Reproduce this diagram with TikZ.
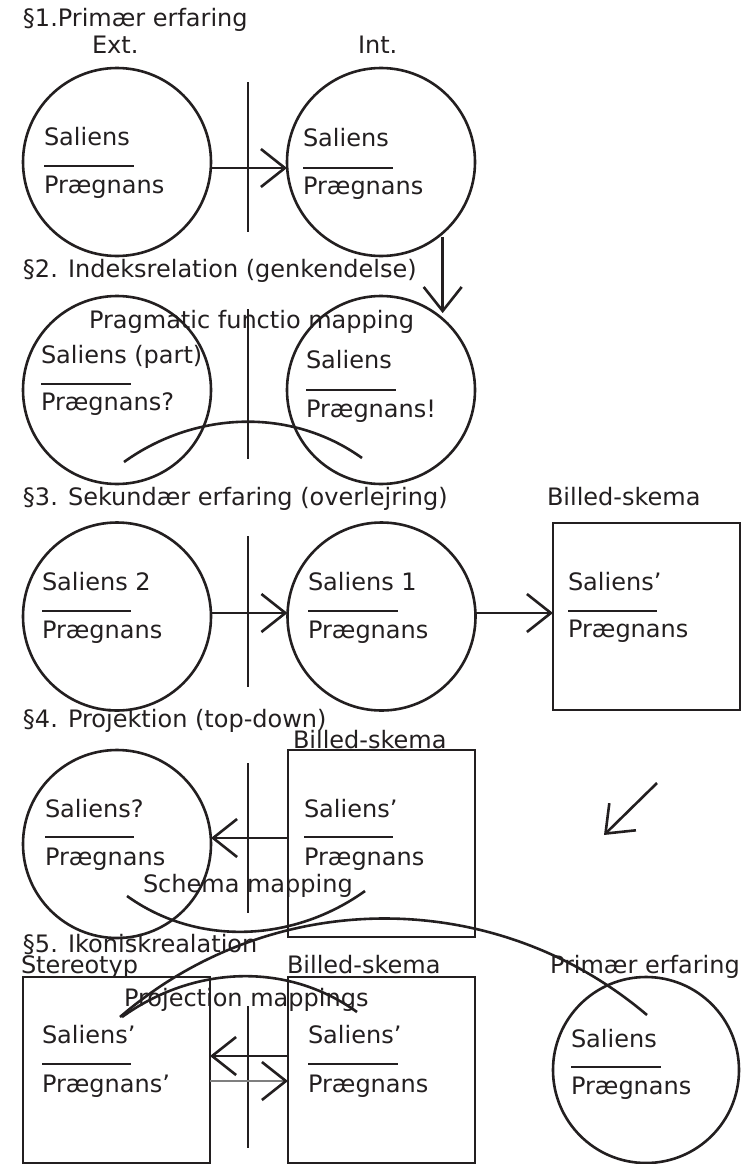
\documentclass[tikz,border=0pt]{standalone}
\usepackage{fontspec}
\setmainfont{DejaVu Sans}
\usetikzlibrary{arrows.meta}
\definecolor{ink}{HTML}{231F20}
\definecolor{greyline}{HTML}{7F7F7F}
\begin{document}
\begin{tikzpicture}[x=1pt,y=-1pt,
  ln/.style={line width=2.6pt, draw=ink},
  arr/.style={ln, -{Straight Barb[length=24pt,width=38pt]}},
  txt/.style={anchor=base west, inner sep=0pt, outer sep=0pt, text=ink, font=\fontsize{24}{28}\selectfont},
  circ/.style={ln, circle, minimum size=188pt, inner sep=0pt, outer sep=0pt},
  sq/.style={ln, rectangle, minimum width=187pt, minimum height=187pt, inner sep=0pt, outer sep=0pt},
  fracline/.style={line width=2.8pt, draw=ink},
]
\useasboundingbox (0,0) rectangle (747,1164);
\fill[white] (0,0) rectangle (747,1164);

% ---------- section 1 ----------
\node[txt] (t1) at (23,27) {§1.Primær erfaring};
\node[txt] (ext) at (92,53) {Ext.};
\node[txt] (int) at (358,53) {Int.};
\node[circ] (s1L) at (117,162) {};
\node[circ] (s1R) at (381,162) {};
\node[txt] (s1Ls) at (44,145) {Saliens};
\node[txt] (s1Lp) at (44,193) {Prægnans};
\node[txt] (s1Rs) at (303,146) {Saliens};
\node[txt] (s1Rp) at (303,194) {Prægnans};
\draw[fracline] (44,166) -- (134,166);
\draw[fracline] (303,168) -- (393,168);
\draw[ln] (248,82) -- (248,232);
\draw[arr] ([yshift=-6pt]s1L.east) -- ([yshift=-6pt]s1R.west);

% ---------- section 2 ----------
\node[txt] (t2) at (23,277) {§2. Indeksrelation (genkendelse)};
\node[circ] (s2L) at (117,390) {};
\node[circ] (s2R) at (381,390) {};
\node[txt] (prag) at (89,328) {Pragmatic functio mapping};
\node[txt] (s2Ls) at (41,363) {Saliens (part)};
\node[txt] (s2Lp) at (41,410) {Prægnans?};
\node[txt] (s2Rs) at (306,368) {Saliens};
\node[txt] (s2Rp) at (306,417) {Prægnans!};
\draw[fracline] (41,384) -- (131,384);
\draw[fracline] (306,390) -- (396,390);
\draw[ln] (248,309) -- (248,459);
\draw[arr, shorten <=4pt, shorten >=6pt] (s1R.-49.5) -- (s2R.49.5);
\coordinate (a2s) at (124,462);
\coordinate (a2e) at (362,458);
\draw[ln] (a2s) .. controls (195,411) and (291,407) .. (a2e);

% ---------- section 3 ----------
\node[txt] (t3) at (23,505) {§3. Sekundær erfaring (overlejring)};
\node[txt] (bs3) at (547,505) {Billed-skema};
\node[circ] (s3L) at (117,616.5) {};
\node[circ] (s3R) at (381.5,616.5) {};
\node[sq] (s3B) at (646.5,616.5) {};
\node[txt] (s3Ls) at (42,590) {Saliens 2};
\node[txt] (s3Lp) at (42,638) {Prægnans};
\node[txt] (s3Rs) at (308,590) {Saliens 1};
\node[txt] (s3Rp) at (308,638) {Prægnans};
\node[txt] (s3Bs) at (568,590) {Saliens’};
\node[txt] (s3Bp) at (568,637) {Prægnans};
\draw[fracline] (42,611) -- (131,611);
\draw[fracline] (308,611) -- (398,611);
\draw[fracline] (568,611) -- (657,611);
\draw[ln] (248,536) -- (248,687);
\draw[arr] ([yshift=3.5pt]s3L.east) -- ([yshift=3.5pt]s3R.west);
\draw[arr] ([yshift=3.5pt]s3R.east) -- ([yshift=3.5pt]s3B.west);

% ---------- section 4 ----------
\node[txt] (t4) at (23,727) {§4. Projektion (top-down)};
\node[circ] (s4L) at (117,844) {};
\node[sq] (s4B) at (381.5,843.5) {};
\node[txt] (bs4) at (293,748) {Billed-skema};
\node[txt] (s4Ls) at (45,817) {Saliens?};
\node[txt] (s4Lp) at (45,865) {Prægnans};
\node[txt] (s4Bs) at (304,817) {Saliens’};
\node[txt] (s4Bp) at (304,865) {Prægnans};
\node[txt] (schm) at (143,892) {Schema mapping};
\draw[fracline] (45,837) -- (134,837);
\draw[fracline] (304,837) -- (393,837);
\draw[ln] (248,763) -- (248,913);
\draw[arr] ([yshift=5.5pt]s4B.west) -- ([yshift=6pt]s4L.east);
\coordinate (d1) at (657,783);
\coordinate (d2) at (604,835);
\draw[arr] (d1) -- (d2);
\coordinate (a4s) at (127,896);
\coordinate (a4e) at (365,891);
\draw[ln] (a4s) .. controls (198,947) and (294,942) .. (a4e);

% ---------- section 5 ----------
\node[txt] (t5) at (23,952) {§5. Ikoniskrealation};
\node[txt] (stereo) at (21,973) {Stereotyp};
\node[txt] (bs5) at (287,973) {Billed-skema};
\node[txt] (prim) at (550,973) {Primær erfaring};
\node[sq, minimum height=186pt] (s5L) at (116.5,1070) {};
\node[sq, minimum height=186pt] (s5R) at (381.5,1070) {};
\node[circ, minimum size=186pt] (s5C) at (646,1070) {};
\node[txt] (projm) at (124,1006) {Projection mappings};
\node[txt] (s5Ls) at (42,1043) {Saliens’};
\node[txt] (s5Lp) at (42,1092) {Prægnans’};
\node[txt] (s5Rs) at (308,1043) {Saliens’};
\node[txt] (s5Rp) at (308,1092) {Prægnans};
\node[txt] (s5Cs) at (571,1047) {Saliens};
\node[txt] (s5Cp) at (571,1094) {Prægnans};
\draw[fracline] (42,1064) -- (131,1064);
\draw[fracline] (308,1064) -- (398,1064);
\draw[fracline] (571,1067) -- (661,1067);
\draw[ln] (248,1006) -- (248,1148);
\draw[arr] ([yshift=14pt]s5R.west) -- ([yshift=14pt]s5L.east);
\draw[ln, draw=greyline, -{Straight Barb[length=24pt,width=38pt,color=ink]}] ([yshift=-11pt]s5L.east) -- ([yshift=-11pt]s5R.west);
\coordinate (a5s) at (122,1017);
\coordinate (a5e) at (357,1012);
\draw[ln] (a5s) .. controls (193,966) and (286,961) .. (a5e);
\coordinate (bgs) at (120,1017);
\coordinate (bge) at (647,1015);
\draw[ln] (bgs) .. controls (272,886) and (495,886) .. (bge);
\end{tikzpicture}
\end{document}
